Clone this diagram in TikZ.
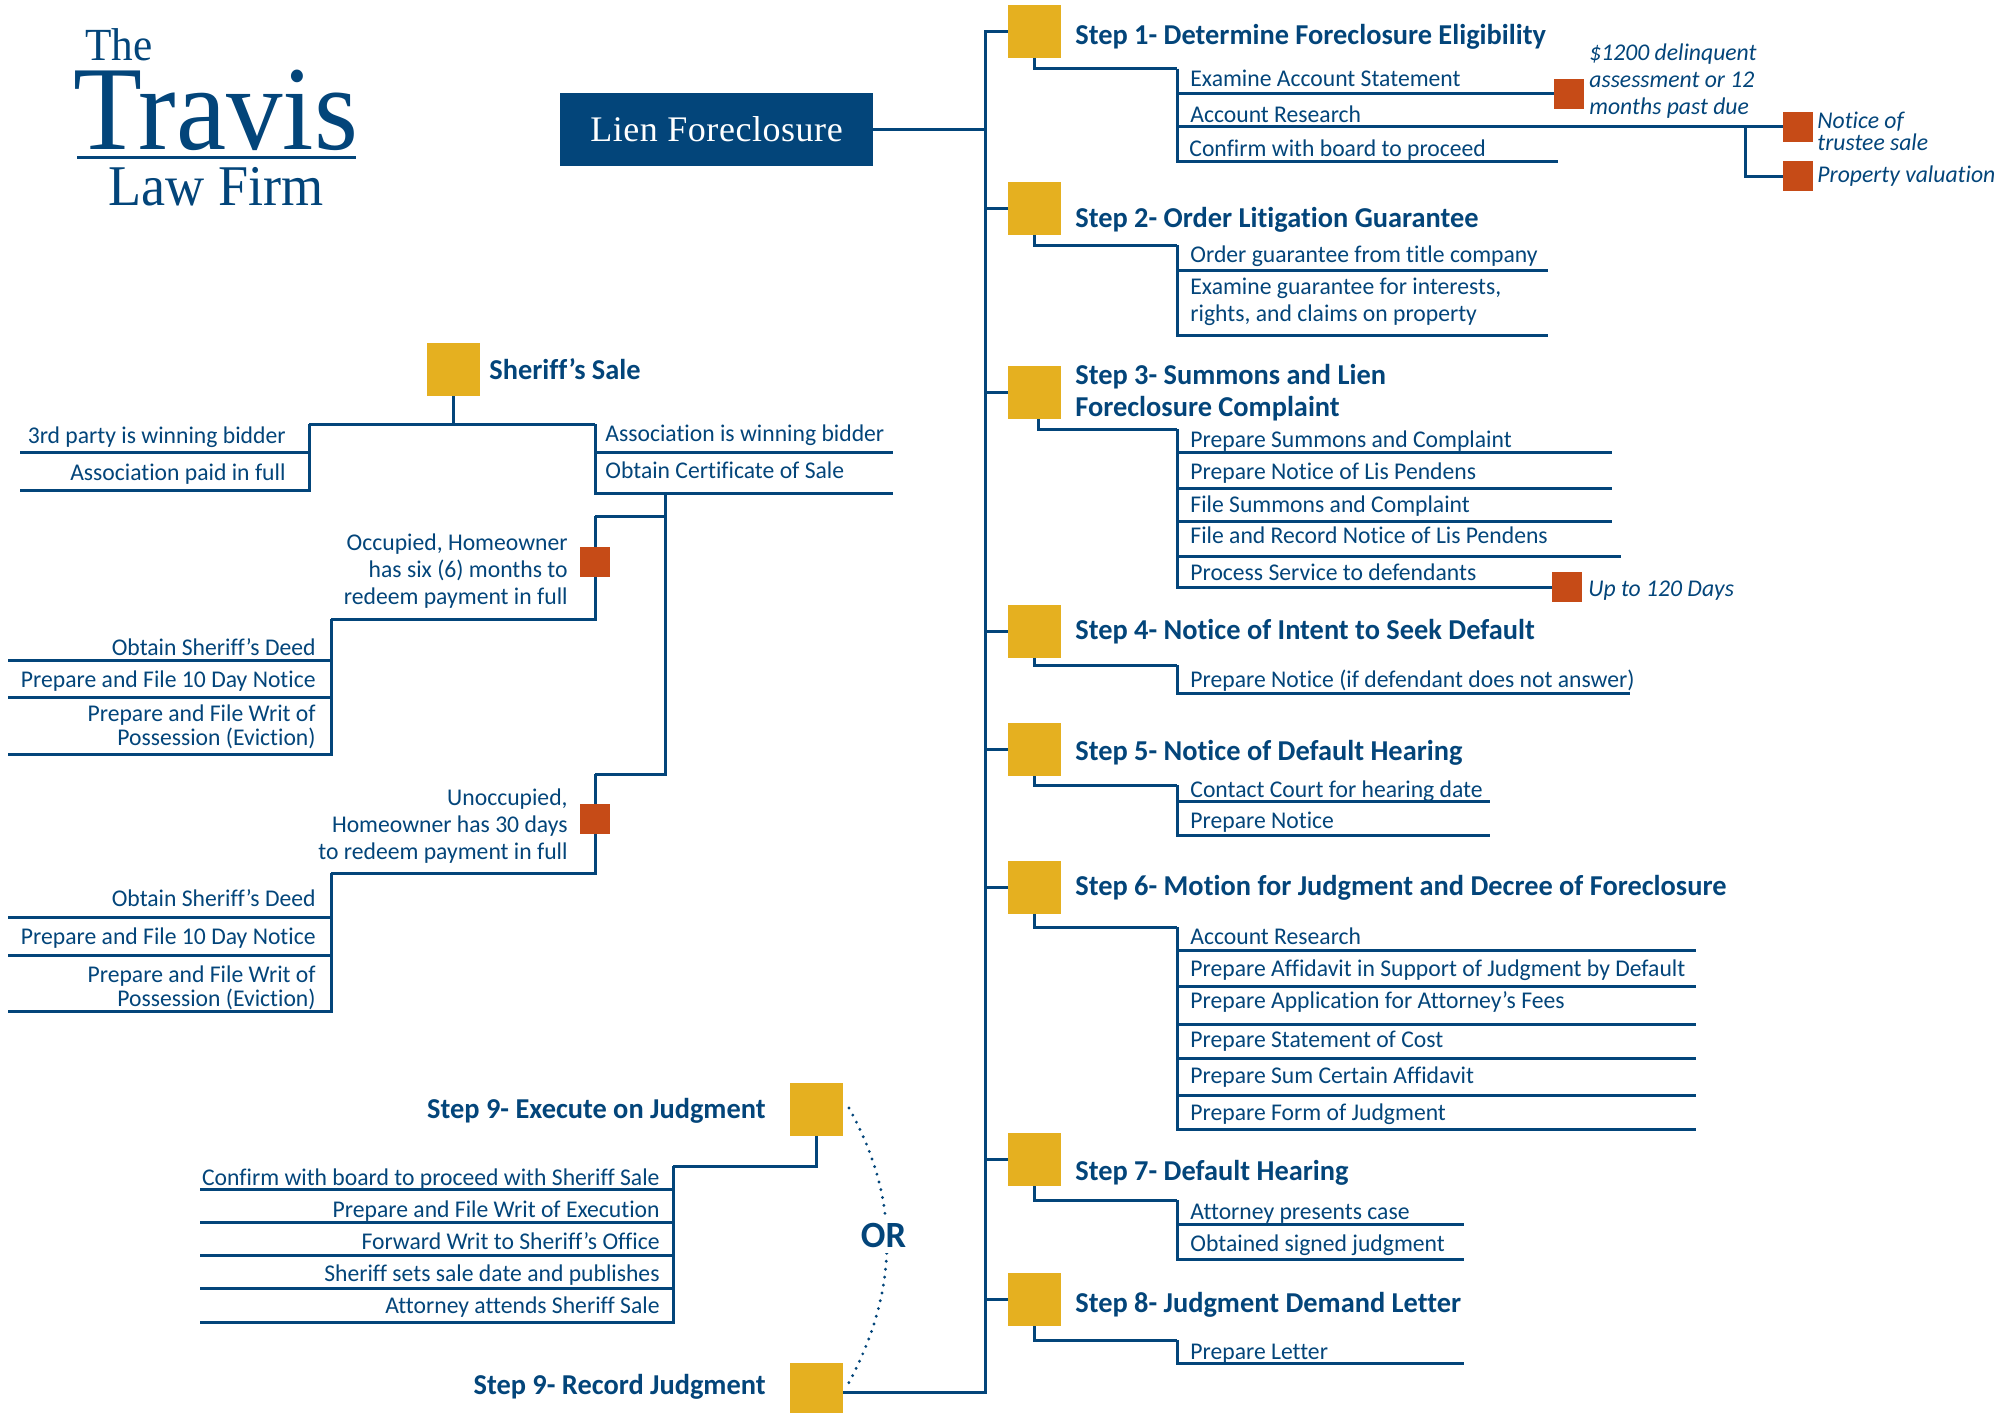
\documentclass[tikz,border=0pt]{standalone}
\usepackage{fontspec}
\setmainfont[FakeStretch=0.985, Ligatures=NoCommon]{Carlito}
\newfontfamily\logofont[FakeStretch=0.94]{Liberation Serif}
\newfontfamily\lienfont[LetterSpace=1.5]{Liberation Serif}
\definecolor{navy}{HTML}{03457A}
\definecolor{gold}{HTML}{E5B020}
\definecolor{rust}{HTML}{C64B17}
\tikzset{
    wire/.style={draw=navy, line width=1.5pt},
    goldbox/.style={fill=gold, inner sep=0pt, minimum size=26.5pt},
    rustbox/.style={fill=rust, inner sep=0pt, minimum size=15pt},
    item/.style={text=navy, inner sep=0pt, anchor=base west, align=left, font=\fontsize{12}{13.5}\selectfont},
    itemr/.style={item, anchor=base east, align=right},
    note/.style={item, font=\fontsize{12}{13.5}\selectfont\itshape},
    stepname/.style={item, yshift=-0.7pt, font=\fontsize{14.4}{16}\selectfont\bfseries},
    stepnamer/.style={stepname, anchor=base east, align=right},
    logo/.style={text=navy, inner sep=0pt, anchor=base, font=\logofont}
}
\begin{document}
\begin{tikzpicture}[x=0.5pt, y=-0.5pt]
        \useasboundingbox (0, 0) rectangle (2007, 1413);

        \node[logo, font=\logofont\fontsize{23}{23}\selectfont] (the) at (119, 61) {The};
        \node[logo, font=\logofont\fontsize{60}{60}\selectfont] (travis) at (216, 149) {Travis};
        \node[logo, font=\logofont\fontsize{28.8}{29}\selectfont] (firm) at (216, 205) {Law Firm};
        \coordinate (ruleL) at (77, 157);
        \coordinate (ruleR) at (356, 157);
        \draw[wire] (ruleL) -- (ruleR);

        \node[fill=navy, text=white, inner sep=0pt, minimum width=156.5pt, minimum height=36.5pt, font=\lienfont\fontsize{18}{18}\selectfont] (lien) at (716.5, 129.5) {Lien Foreclosure};

        \node[goldbox] (s1) at (1034.5, 31.5) {};
        \node[goldbox] (s2) at (1034.5, 208.5) {};
        \node[goldbox] (s3) at (1034.5, 392.5) {};
        \node[goldbox] (s4) at (1034.5, 631.5) {};
        \node[goldbox] (s5) at (1034.5, 749.5) {};
        \node[goldbox] (s6) at (1034.5, 887.5) {};
        \node[goldbox] (s7) at (1034.5, 1159.5) {};
        \node[goldbox] (s8) at (1034.5, 1299.5) {};
        \node[goldbox] (exec) at (816.5, 1109.5) {};
        \node[goldbox, minimum height=25pt] (rec) at (816.5, 1388) {};
        \node[goldbox] (sale) at (453.5, 369.5) {};

        \node[stepname] (t1) at (1075, 43) {Step 1- Determine Foreclosure Eligibility};
        \node[stepname] (t2) at (1075, 226) {Step 2- Order Litigation Guarantee};
        \node[stepname] (t3) at (1075, 415) {Step 3- Summons and Lien\\Foreclosure Complaint};
        \node[stepname] (t4) at (1075, 638) {Step 4- Notice of Intent to Seek Default};
        \node[stepname] (t5) at (1075, 759) {Step 5- Notice of Default Hearing};
        \node[stepname] (t6) at (1075, 894) {Step 6- Motion for Judgment and Decree of Foreclosure};
        \node[stepname] (t7) at (1075, 1179) {Step 7- Default Hearing};
        \node[stepname] (t8) at (1075, 1311) {Step 8- Judgment Demand Letter};
        \node[stepnamer] (t9a) at (766, 1117) {Step 9- Execute on Judgment};
        \node[stepnamer] (t9b) at (766, 1393) {Step 9- Record Judgment};
        \node[stepname] (tsale) at (489, 378) {Sheriff's Sale};

        \coordinate (tBot) at (985, 1392);
        \coordinate (recOut) at (843, 1392);
        \draw[wire] (s1.west) -| (tBot) -- (recOut);
        \draw[wire] (lien) -- (lien -| tBot);
        \draw[wire] (s2.west) -- (s2.west -| tBot);
        \draw[wire] (s3.west) -- (s3.west -| tBot);
        \draw[wire] (s4.west) -- (s4.west -| tBot);
        \draw[wire] (s5.west) -- (s5.west -| tBot);
        \draw[wire] (s6.west) -- (s6.west -| tBot);
        \draw[wire] (s7.west) -- (s7.west -| tBot);
        \draw[wire] (s8.west) -- (s8.west -| tBot);

        \coordinate (v1) at (1177, 69);
        \node[rustbox] (o1) at (1569, 94) {};
        \node[rustbox] (o2) at (1798, 127) {};
        \node[rustbox] (o3) at (1798, 176) {};
        \coordinate (j1) at (1745, 127);
        \coordinate (e13) at (1558, 161);
        \draw[wire] (s1.south) |- (v1);
        \draw[wire] (v1) |- (o1.west);
        \draw[wire] (v1) |- (o2.west);
        \draw[wire] (v1) |- (e13);
        \draw[wire] (j1) |- (o3.west);
        \node[item] (i11) at (1190, 87) {Examine Account Statement};
        \node[item] (i12) at (1190, 123) {Account Research};
        \node[item] (i13) at (1189, 156) {Confirm with board to proceed};
        \node[note] (n1) at (1589, 114) {\$1200 delinquent\\assessment or 12\\months past due};
        \node[note, font=\fontsize{12}{11}\selectfont\itshape] (n2) at (1817, 150) {Notice of\\trustee sale};
        \node[note] (n3) at (1817, 182) {Property valuation};

        \coordinate (v2) at (1177, 245);
        \coordinate (e21) at (1548, 270);
        \coordinate (e22) at (1548, 335);
        \draw[wire] (s2.south) |- (v2);
        \draw[wire] (v2) |- (e21);
        \draw[wire] (v2) |- (e22);
        \node[item] (i21) at (1190, 262) {Order guarantee from title company};
        \node[item] (i22) at (1190, 321) {Examine guarantee for interests,\\rights, and claims on property};

        \coordinate (q3) at (1038, 419);
        \coordinate (v3) at (1177, 429);
        \coordinate (e31) at (1612, 452);
        \coordinate (e32) at (1612, 488);
        \coordinate (e33) at (1612, 521);
        \coordinate (e34) at (1621, 556);
        \node[rustbox] (o4) at (1567, 587) {};
        \draw[wire] (q3) |- (v3);
        \draw[wire] (v3) |- (e31);
        \draw[wire] (v3) |- (e32);
        \draw[wire] (v3) |- (e33);
        \draw[wire] (v3) |- (e34);
        \draw[wire] (v3) |- (o4.west);
        \node[item] (i31) at (1190, 447) {Prepare Summons and Complaint};
        \node[item] (i32) at (1190, 479) {Prepare Notice of Lis Pendens};
        \node[item] (i33) at (1190, 512) {File Summons and Complaint};
        \node[item] (i34) at (1190, 543) {File and Record Notice of Lis Pendens};
        \node[item] (i35) at (1190, 580) {Process Service to defendants};
        \node[note] (n4) at (1588, 596) {Up to 120 Days};

        \coordinate (v4) at (1177, 665);
        \coordinate (e41) at (1630, 693);
        \draw[wire] (s4.south) |- (v4);
        \draw[wire] (v4) |- (e41);
        \node[item] (i41) at (1190, 687) {Prepare Notice (if defendant does not answer)};

        \coordinate (v5) at (1177, 785);
        \coordinate (e51) at (1490, 801);
        \coordinate (e52) at (1490, 835);
        \draw[wire] (s5.south) |- (v5);
        \draw[wire] (v5) |- (e51);
        \draw[wire] (v5) |- (e52);
        \node[item] (i51) at (1190, 797) {Contact Court for hearing date};
        \node[item] (i52) at (1190, 828) {Prepare Notice};

        \coordinate (v6) at (1177, 927);
        \coordinate (e61) at (1696, 950);
        \coordinate (e62) at (1696, 986);
        \coordinate (e63) at (1696, 1024);
        \coordinate (e64) at (1696, 1058);
        \coordinate (e65) at (1696, 1095);
        \coordinate (e66) at (1696, 1129);
        \draw[wire] (s6.south) |- (v6);
        \draw[wire] (v6) |- (e61);
        \draw[wire] (v6) |- (e62);
        \draw[wire] (v6) |- (e63);
        \draw[wire] (v6) |- (e64);
        \draw[wire] (v6) |- (e65);
        \draw[wire] (v6) |- (e66);
        \node[item] (i61) at (1190, 944) {Account Research};
        \node[item] (i62) at (1190, 976) {Prepare Affidavit in Support of Judgment by Default};
        \node[item] (i63) at (1190, 1008) {Prepare Application for Attorney's Fees};
        \node[item] (i64) at (1190, 1047) {Prepare Statement of Cost};
        \node[item] (i65) at (1190, 1083) {Prepare Sum Certain Affidavit};
        \node[item] (i66) at (1190, 1120) {Prepare Form of Judgment};

        \coordinate (v7) at (1177, 1200);
        \coordinate (e71) at (1464, 1224);
        \coordinate (e72) at (1464, 1259);
        \draw[wire] (s7.south) |- (v7);
        \draw[wire] (v7) |- (e71);
        \draw[wire] (v7) |- (e72);
        \node[item] (i71) at (1190, 1219) {Attorney presents case};
        \node[item] (i72) at (1190, 1251) {Obtained signed judgment};

        \coordinate (v8) at (1177, 1340);
        \coordinate (e81) at (1464, 1363);
        \draw[wire] (s8.south) |- (v8);
        \draw[wire] (v8) |- (e81);
        \node[item] (i81) at (1190, 1359) {Prepare Letter};

        \coordinate (v9) at (673, 1166);
        \coordinate (e91) at (200, 1189);
        \coordinate (e92) at (200, 1222);
        \coordinate (e93) at (200, 1255);
        \coordinate (e94) at (200, 1288);
        \coordinate (e95) at (200, 1322);
        \draw[wire] (exec.south) |- (v9);
        \draw[wire] (v9) |- (e91);
        \draw[wire] (v9) |- (e92);
        \draw[wire] (v9) |- (e93);
        \draw[wire] (v9) |- (e94);
        \draw[wire] (v9) |- (e95);
        \node[itemr] (i91) at (660, 1185) {Confirm with board to proceed with Sheriff Sale};
        \node[itemr] (i92) at (660, 1217) {Prepare and File Writ of Execution};
        \node[itemr] (i93) at (660, 1249) {Forward Writ to Sheriff's Office};
        \node[itemr] (i94) at (660, 1281) {Sheriff sets sale date and publishes};
        \node[itemr] (i95) at (660, 1313) {Attorney attends Sheriff Sale};

        \coordinate (arcA) at (849, 1108);
        \coordinate (arcB) at (846, 1388);
        \draw[navy, line width=1.6pt, line cap=round, dash pattern=on 0pt off 4pt] (arcA) .. controls (900, 1200) and (900, 1290) .. (arcB);
        \node[fill=white, text=navy, inner sep=3pt, font=\fontsize{18.5}{18}\selectfont\bfseries] (orword) at (883.5, 1235) {OR};

        \coordinate (sL) at (309, 424);
        \coordinate (sR) at (595, 424);
        \coordinate (e1a) at (20, 452);
        \coordinate (e1b) at (20, 490);
        \coordinate (e2a) at (893, 452);
        \coordinate (e2b) at (893, 493);
        \draw[wire] (sale.south) -- (sale.south |- sL);
        \draw[wire] (sL) -- (sR);
        \draw[wire] (sL) |- (e1a);
        \draw[wire] (sL) |- (e1b);
        \draw[wire] (sR) |- (e2a);
        \draw[wire] (sR) |- (e2b);
        \node[itemr] (a1) at (286, 443) {3rd party is winning bidder};
        \node[itemr] (a2) at (286, 480) {Association paid in full};
        \node[item] (b1) at (605, 441) {Association is winning bidder};
        \node[item] (b2) at (605, 478) {Obtain Certificate of Sale};

        \coordinate (w0) at (665, 493);
        \coordinate (w1) at (595, 516);
        \coordinate (w2) at (595, 774);
        \node[rustbox] (occ) at (595, 562) {};
        \node[rustbox] (uno) at (595, 819) {};
        \coordinate (c1) at (595, 619);
        \coordinate (c2) at (331, 619);
        \coordinate (d1) at (595, 873);
        \coordinate (d2) at (331, 873);
        \coordinate (f1) at (8, 660);
        \coordinate (f2) at (8, 697);
        \coordinate (f3) at (8, 754);
        \coordinate (g1) at (8, 917);
        \coordinate (g2) at (8, 955);
        \coordinate (g3) at (8, 1011);
        \draw[wire] (w0) |- (w1);
        \draw[wire] (w0) |- (w2);
        \draw[wire] (w1) -- (occ.north);
        \draw[wire] (occ.south) -- (c1) -- (c2);
        \draw[wire] (w2) -- (uno.north);
        \draw[wire] (uno.south) -- (d1) -- (d2);
        \draw[wire] (c2) |- (f1);
        \draw[wire] (c2) |- (f2);
        \draw[wire] (c2) |- (f3);
        \draw[wire] (d2) |- (g1);
        \draw[wire] (d2) |- (g2);
        \draw[wire] (d2) |- (g3);
        \node[itemr] (p0) at (568, 604) {Occupied, Homeowner\\has six (6) months to\\redeem payment in full};
        \node[itemr] (p1) at (316, 655) {Obtain Sheriff's Deed};
        \node[itemr] (p2) at (316, 687) {Prepare and File 10 Day Notice};
        \node[itemr, font=\fontsize{12}{12}\selectfont] (p3) at (316, 745) {Prepare and File Writ of\\Possession (Eviction)};
        \node[itemr] (r0) at (568, 859) {Unoccupied,\\Homeowner has 30 days\\to redeem payment in full};
        \node[itemr] (r1) at (316, 906) {Obtain Sheriff's Deed};
        \node[itemr] (r2) at (316, 944) {Prepare and File 10 Day Notice};
        \node[itemr, font=\fontsize{12}{12}\selectfont] (r3) at (316, 1006) {Prepare and File Writ of\\Possession (Eviction)};
    \end{tikzpicture}
\end{document}
